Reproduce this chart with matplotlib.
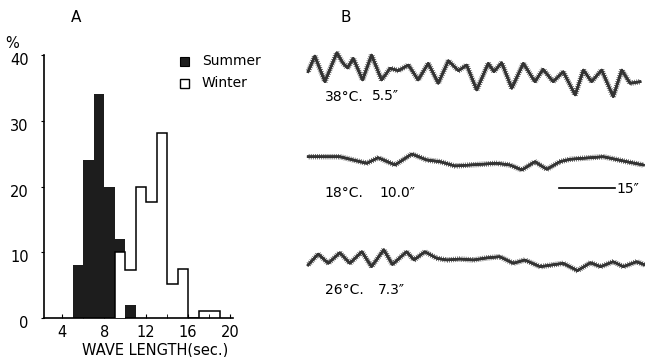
import numpy as np
import matplotlib
matplotlib.use('Agg')
from matplotlib import pyplot as plt
from matplotlib import patheffects as pe
from matplotlib.transforms import ScaledTranslation

# A: wave length histogram, % per 1 sec bin
summer_edges = np.arange(5, 12)
summer = [8, 24, 34, 20, 12, 2]
winter_edges = np.arange(9, 20)
winter = [10, 7.3, 20, 17.7, 28.2, 5.1, 7.5, 0, 1, 1]

# B: traces, time in sec, amplitude in arbitrary units
t38 = [0.3, 2.1, 4.8, 8.0, 9.6, 10.9, 12.4, 14.9, 17.3, 20.0, 22.3, 24.5, 27.2, 29.8,
       32.5, 35.2, 37.9, 40.6, 42.8, 45.5, 48.6, 50.1, 52.2, 54.9, 58.0, 61.1, 63.3,
       66.0, 68.7, 71.9, 74.1, 76.3, 79.0, 82.1, 84.4, 86.6, 89.3]
a38 = [0.3, 16, -9.7, 19.3, 9, 4, 13.7, -8, 17, -8, 3.7, 1.3, 7, -8,
       8.7, -11.3, 11.3, 1.3, 7, -18, 8.7, 0.3, 9.3, -16.3, 8.7, -9.7, 2.7,
       -9.7, 0.3, -23, 2, -9.7, 2, -24.7, 2, -11.3, -9.7]
t18 = [0.3, 8.8, 16.0, 19.1, 23.6, 28.1, 32.1, 35.7, 39.7, 43.7, 50.9, 54.4, 57.6,
       61.1, 64.3, 67.8, 70.5, 79.4, 85.7, 90.2]
a18 = [5.3, 5.3, -1.3, 4.3, -3, 8, 2, 0.3, -4, -3, -1.3, -3, -8,
       0.3, -7.3, 0.3, 2.7, 5.3, 0.3, -3]
t26 = [0.3, 3.0, 5.7, 8.8, 11.5, 14.7, 17.3, 20.6, 22.9, 26.7, 28.7, 31.6, 34.8, 37.5,
       41.0, 44.6, 48.0, 51.7, 55.3, 58.4, 62.5, 68.7, 72.5, 76.0, 78.7, 82.1, 84.8,
       88.4, 90.6]
a26 = [-5, 6, -3.3, 7.3, -3.3, 8.3, -6.7, 10.3, -4.5, 8.3, 0, 8.3, 1.7, 0,
       1, 0, 2, 3.3, -3.3, 0, -6.7, -3.3, -10.7, -2.7, -6.7, -1.7, -6.7,
       -1.7, -5]

plt.rcParams['font.family'] = 'DejaVu Sans'
fig = plt.figure(figsize=(6.45, 3.57), dpi=100)

# ---- panel A
ax = fig.add_axes([44/645, 1-318/357, 189/645, 263/357])
ax.stairs(summer, summer_edges, fill=True, color='#1d1d1d', zorder=2)
s_of = dict(zip(summer_edges[:-1], summer))
for e, w in zip(winter_edges[:-1], winter):
    z = 3 if w < s_of.get(e, 0) else 1
    ax.bar(e, w, width=1, align='edge', color='white', lw=0, zorder=z)
ax.stairs(winter, winter_edges, color='k', lw=1.1, zorder=4)

ax.set_xlim(2.27, 20.27)
ax.set_ylim(0, 40)
for s in ['top', 'right']:
    ax.spines[s].set_visible(False)
for s in ['left', 'bottom']:
    ax.spines[s].set_linewidth(1.2)
ax.set_xticks([4, 8, 12, 16, 20])
ax.set_xticks([6, 10, 14, 18], minor=True)
ax.set_yticks([0, 10, 20, 30, 40])
ax.tick_params(axis='x', which='both', direction='in', length=3, labelsize=10.5, pad=5)
ax.tick_params(axis='y', direction='out', length=2, labelsize=10.5, pad=9)
shift = ScaledTranslation(0, -0.04, fig.dpi_scale_trans)
for lab in ax.get_yticklabels():
    lab.set_transform(lab.get_transform() + shift)
ax.patch.set_alpha(0)

fig.text(12/645, 1-43/357, '%', fontsize=10.5, ha='center', va='center')
fig.text(76/645, 1-18/357, 'A', fontsize=11, ha='center', va='center')
fig.text(346/645, 1-18/357, 'B', fontsize=11, ha='center', va='center')
fig.text(155/645, 1-350/357, 'WAVE LENGTH(sec.)', fontsize=10.5, ha='center', va='center')

# legend
fig.patches.append(plt.Rectangle((180/645, 1-66/357), 9/645, 9/357, transform=fig.transFigure,
                                 facecolor='#1d1d1d', edgecolor='k', lw=0.8))
fig.patches.append(plt.Rectangle((180/645, 1-88/357), 9/645, 9/357, transform=fig.transFigure,
                                 facecolor='white', edgecolor='k', lw=1))
fig.text(202/645, 1-61/357, 'Summer', fontsize=10, va='center')
fig.text(202/645, 1-83/357, 'Winter', fontsize=10, va='center')

# ---- panel B
bx = fig.add_axes([300/645, 1-330/357, 345/645, 300/357])
bx.set_xlim(-7/3.73, 338/3.73)
bx.set_ylim(0, 300)
bx.axis('off')
fuzz = [pe.withTickedStroke(angle=90, spacing=1.5, length=1.1, linewidth=0.6, foreground='#555555'),
        pe.withTickedStroke(angle=-90, spacing=1.5, length=1.1, linewidth=0.6, foreground='#555555'),
        pe.Normal()]
for t, a, base in [(t38, a38, 258), (t18, a18, 168), (t26, a26, 70)]:
    bx.plot(t, np.array(a) + base, color='#333333', lw=1.7, solid_joinstyle='round',
            path_effects=fuzz)

kw = dict(fontsize=10, va='center', ha='left')
bx.text(4.8, 233, '38°C.', **kw)
bx.text(17.5, 234, '5.5″', **kw)
bx.text(4.8, 137, '18°C.', **kw)
bx.text(19.5, 137, '10.0″', **kw)
bx.text(4.8, 40, '26°C.', **kw)
bx.text(19.0, 40, '7.3″', **kw)
bx.plot([67.6, 82.6], [142, 142], color='k', lw=1.2)
bx.text(83.0, 141, '15″', **kw)

fig.savefig('out.png', dpi=100)
